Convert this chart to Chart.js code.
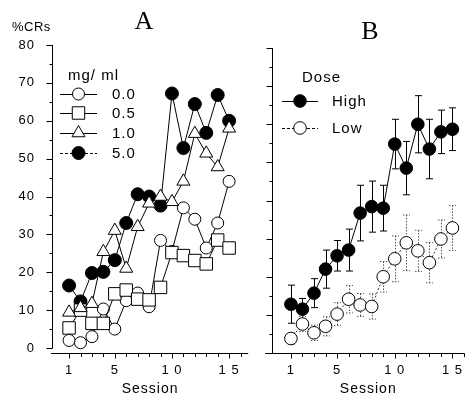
<!DOCTYPE html>
<html>
<head>
<meta charset="utf-8">
<script src="https://cdn.jsdelivr.net/npm/chart.js@4.4.1/dist/chart.umd.min.js"></script>
<style>
  body { margin: 0; background: #fff; width: 474px; height: 401px; overflow: hidden; position: relative;
         font-family: "Liberation Sans", Arial, Helvetica, sans-serif; }
  .box { position: absolute; top: 0; height: 401px; }
  .txt { position: absolute; color: #000; white-space: nowrap; }
  .panel { font-family: "Liberation Serif", "Times New Roman", serif; font-size: 26px; line-height: 26px;
           width: 40px; text-align: center; }
</style>
</head>
<body>
<div class="box" style="left:0;width:258px"><canvas id="chartA"></canvas></div>
<div class="box" style="left:258px;width:216px"><canvas id="chartB"></canvas></div>
<div class="txt" style="left:12px;top:20px;font-size:13px;line-height:13px;letter-spacing:0.5px">%CRs</div>
<div class="txt panel" style="left:124px;top:8px">A</div>
<div class="txt panel" style="left:350px;top:18px">B</div>
<script>
// ---------------- DATA ----------------
const sessions = [1, 2, 3, 4, 5, 6, 7, 8, 9, 10, 11, 12, 13, 14, 15];

// panel A : %CRs by dose (mg/ ml)
const dose00 = [2, 1.4, 3, 10.3, 5, 12.5, 14.5, 10.9, 28.4, 25.5, 37, 34, 26.4, 33, 44];
const dose05 = [5.3, 10, 6.5, 6.5, 14.3, 15.3, 12.9, 12.7, 16, 25.2, 24.4, 23.1, 22.2, 28.5, 26.4];
const dose10 = [9.4, 10.6, 11.7, 25.4, 31, 21, 32, 38.2, 40, 38.6, 44, 56.6, 51.4, 47.8, 58];
const dose50 = [16.5, 12.3, 19.8, 20.1, 23.2, 33, 40.6, 40, 37.6, 67.2, 52.8, 64.4, 56.8, 66.8, 60];

// panel B : group means and error bars
const highMean = [12.8, 11.5, 15.7, 22, 25.5, 27, 36.7, 38.4, 38, 54.8, 48.5, 60, 53.5, 58, 58.7];
const highErr = [5, 2.8, 3.8, 5, 4, 5.5, 7.3, 6.7, 6, 6.5, 7, 7.5, 7.8, 5.7, 5.6];
const lowMean = [3.8, 7.6, 5.3, 7, 10.2, 14.1, 12.6, 12.2, 20, 24.7, 28.9, 26.8, 23.7, 29.9, 32.8];
const lowErr = [1.5, 2, 2, 2.5, 3, 3.6, 3, 3.3, 4, 6, 7.3, 5.4, 5.3, 5, 5.9];

// axes
const xTickSessions = [1, 2, 3, 4, 5, 6, 7, 8, 9, 10, 11, 12, 13, 14, 15, 16];
const xLabelSessions = [1, 5, 10, 15];
const xLabelTexts = ["1", "5", "1 0", "1 5"];
const yTickValues = [0, 5, 10, 15, 20, 25, 30, 35, 40, 45, 50, 55, 60, 65, 70, 75, 80];
const yLabelValues = [0, 10, 20, 30, 40, 50, 60, 70, 80];

const FONT = '"Liberation Sans", Arial, Helvetica, sans-serif';
Chart.defaults.font.family = FONT;
Chart.defaults.color = "#000";

// ---------------- HELPERS ----------------
function points(values) {
    return sessions.map((s, i) => ({ x: s, y: values[i] }));
}

// software-backed 2d context (the top y label went missing on the accelerated one)
function canvasFor(id) {
    const el = document.getElementById(id);
    el.getContext("2d", { willReadFrequently: true });
    return el;
}

function drawMarker(ctx, style, x, y, r, fill) {
    ctx.beginPath();
    if (style === "rect") {
        const s = r * Math.SQRT1_2;
        ctx.rect(x - s, y - s, 2 * s, 2 * s);
    } else if (style === "triangle") {
        for (let k = 0; k < 3; k++) {
            const a = k * 2 * Math.PI / 3;
            const px = x + Math.sin(a) * r, py = y - Math.cos(a) * r;
            if (k) ctx.lineTo(px, py); else ctx.moveTo(px, py);
        }
        ctx.closePath();
    } else {
        ctx.arc(x, y, r, 0, 2 * Math.PI);
    }
    ctx.fillStyle = fill;
    ctx.fill();
    ctx.strokeStyle = "#000";
    ctx.lineWidth = 1;
    ctx.stroke();
}

// canvas text looks a bit spaced out in the original
const lettering = {
    id: "lettering",
    beforeUpdate(chart) { chart.ctx.letterSpacing = "1px"; },
    beforeDraw(chart) { chart.ctx.letterSpacing = "1px"; }
};

// axis lines and tick marks (short minor ticks, separated axes)
function axesPlugin(cfg) {
    return {
        id: "axes",
        afterDraw(chart) {
            const ctx = chart.ctx, xs = chart.scales.x, ys = chart.scales.y;
            const area = chart.chartArea;
            const ax = Math.round(area.left) + 0.5;
            const ay = Math.round(area.bottom) + 0.5;
            ctx.save();
            ctx.strokeStyle = "#000";
            ctx.lineWidth = 1;
            ctx.beginPath();
            // y axis
            ctx.moveTo(ax, Math.round(ys.getPixelForValue(yTickValues[0])) + 0.5);
            ctx.lineTo(ax, Math.round(ys.getPixelForValue(yTickValues[yTickValues.length - 1])));
            ys.ticks.forEach(t => {
                const py = Math.round(ys.getPixelForValue(t.value)) + 0.5;
                const len = yLabelValues.includes(t.value) ? 6 : 3;
                ctx.moveTo(ax - len, py);
                ctx.lineTo(ax, py);
            });
            // x axis
            ctx.moveTo(area.left - cfg.xOverhang, ay);
            ctx.lineTo(area.right, ay);
            xs.ticks.forEach(t => {
                const px = Math.round(xs.getPixelForValue(t.value)) + 0.5;
                const len = xLabelSessions.includes(t.value) ? 5 : 3.5;
                ctx.moveTo(px, ay);
                ctx.lineTo(px, ay + len);
            });
            ctx.stroke();
            ctx.restore();
        }
    };
}

// vertical error bars with caps, drawn under the markers
const errorBars = {
    id: "errorBars",
    beforeDatasetsDraw(chart) {
        const ctx = chart.ctx, xs = chart.scales.x, ys = chart.scales.y;
        chart.data.datasets.forEach(ds => {
            if (!ds.errorBars) return;
            ctx.save();
            ctx.strokeStyle = ds.errColor;
            ctx.lineWidth = 1;
            ctx.setLineDash(ds.errDash);
            ds.data.forEach((p, i) => {
                const e = ds.errorBars[i];
                const px = Math.round(xs.getPixelForValue(p.x)) + 0.5;
                const top = ys.getPixelForValue(p.y + e);
                const bot = ys.getPixelForValue(p.y - e);
                ctx.beginPath();
                ctx.moveTo(px, top); ctx.lineTo(px, bot);
                ctx.moveTo(px - 3.5, top); ctx.lineTo(px + 3.5, top);
                ctx.moveTo(px - 3.5, bot); ctx.lineTo(px + 3.5, bot);
                ctx.stroke();
            });
            ctx.restore();
        });
    }
};

// in-plot legend built from the datasets
function legendPlugin(cfg) {
    return {
        id: "figLegend",
        afterDraw(chart) {
            const ctx = chart.ctx;
            ctx.save();
            ctx.font = "15px " + FONT;
            ctx.fillStyle = "#000";
            ctx.textBaseline = "middle";
            ctx.textAlign = "left";
            ctx.fillText(cfg.title, cfg.titleX, cfg.titleY);
            chart.data.datasets.forEach((ds, i) => {
                const y = cfg.rowY[i];
                ctx.beginPath();
                ctx.setLineDash(ds.legendDash || []);
                ctx.strokeStyle = "#000";
                ctx.lineWidth = 1;
                ctx.moveTo(cfg.lineX0, y + 0.5);
                ctx.lineTo(cfg.lineX1, y + 0.5);
                ctx.stroke();
                ctx.setLineDash([]);
                drawMarker(ctx, ds.pointStyle, (cfg.lineX0 + cfg.lineX1) / 2, y, ds.pointRadius, ds.pointBackgroundColor);
                ctx.fillStyle = "#000";
                ctx.fillText(ds.label, cfg.textX, y + 1);
            });
            ctx.restore();
        }
    };
}

function series(label, values, style, radius, fill, order, extra) {
    return Object.assign({
        label: label, data: points(values), borderColor: "#000", borderWidth: 1,
        pointStyle: style, pointRadius: radius, pointHoverRadius: radius,
        pointBackgroundColor: fill, pointBorderColor: "#000", pointBorderWidth: 1,
        tension: 0, order: order
    }, extra || {});
}

function options(cfg) {
    return {
        responsive: true, maintainAspectRatio: false, animation: false, events: [],
        layout: { padding: cfg.padding },
        plugins: { legend: { display: false }, tooltip: { enabled: false } },
        scales: {
            x: {
                type: "linear", min: cfg.xMin, max: cfg.xMax,
                afterBuildTicks: s => { s.ticks = xTickSessions.map(v => ({ value: v })); },
                afterFit: s => { s.height = 48; },
                grid: { display: false, drawTicks: false }, border: { display: false },
                ticks: { autoSkip: false, maxRotation: 0, minRotation: 0, padding: 10, font: { size: 13 },
                    callback: v => { const k = xLabelSessions.indexOf(v); return k < 0 ? "" : xLabelTexts[k]; } },
                title: { display: true, text: "Session", font: { size: 14 }, padding: { top: 0, bottom: 3 } }
            },
            y: {
                type: "linear", min: cfg.yMin, max: 80,
                afterBuildTicks: s => { s.ticks = yTickValues.map(v => ({ value: v })); },
                afterFit: s => { s.width = cfg.yWidth; },
                grid: { display: false, drawTicks: false }, border: { display: false },
                ticks: { display: cfg.yLabels, autoSkip: false, padding: 17, font: { size: 13 },
                    callback: v => yLabelValues.includes(v) ? String(v) : "" }
            }
        }
    };
}

// ================= PANEL A =================
new Chart(canvasFor("chartA"), {
    type: "line",
    data: { datasets: [
        series("0.0", dose00, "circle", 6, "#fff", 4),
        series("0.5", dose05, "rect", 8.8, "#fff", 2),
        series("1.0", dose10, "triangle", 7.5, "#fff", 1),
        series("5.0", dose50, "circle", 6.5, "#000", 3, { legendDash: [3, 2] })
    ] },
    options: options({ padding: { top: 45, right: 5, left: 0, bottom: 0 }, xMin: -0.494, xMax: 16.67, yMin: -1.32, yWidth: 52, yLabels: true }),
    plugins: [
        lettering,
        axesPlugin({ xOverhang: 1 }),
        legendPlugin({ title: "mg/ ml", titleX: 68, titleY: 76, rowY: [94, 113, 133, 153], lineX0: 60, lineX1: 97, textX: 112 })
    ]
});

// ================= PANEL B =================
new Chart(canvasFor("chartB"), {
    type: "line",
    data: { datasets: [
        series("High", highMean, "circle", 6.3, "#000", 1, { errorBars: highErr, errColor: "#000", errDash: [] }),
        series("Low", lowMean, "circle", 6.3, "#fff", 2, {
            borderColor: "#333", borderDash: [2, 2], legendDash: [3, 2],
            errorBars: lowErr, errColor: "#555", errDash: [1.5, 1.5]
        })
    ] },
    options: options({ padding: { top: 48, right: 0, left: 0, bottom: 0 }, xMin: -0.64, xMax: 16.05, yMin: 0, yWidth: 14, yLabels: false }),
    plugins: [
        lettering, errorBars, axesPlugin({ xOverhang: 7 }),
        legendPlugin({ title: "Dose", titleX: 44, titleY: 78, rowY: [101, 128], lineX0: 24, lineX1: 60, textX: 74 })
    ]
});
</script>
</body>
</html>
